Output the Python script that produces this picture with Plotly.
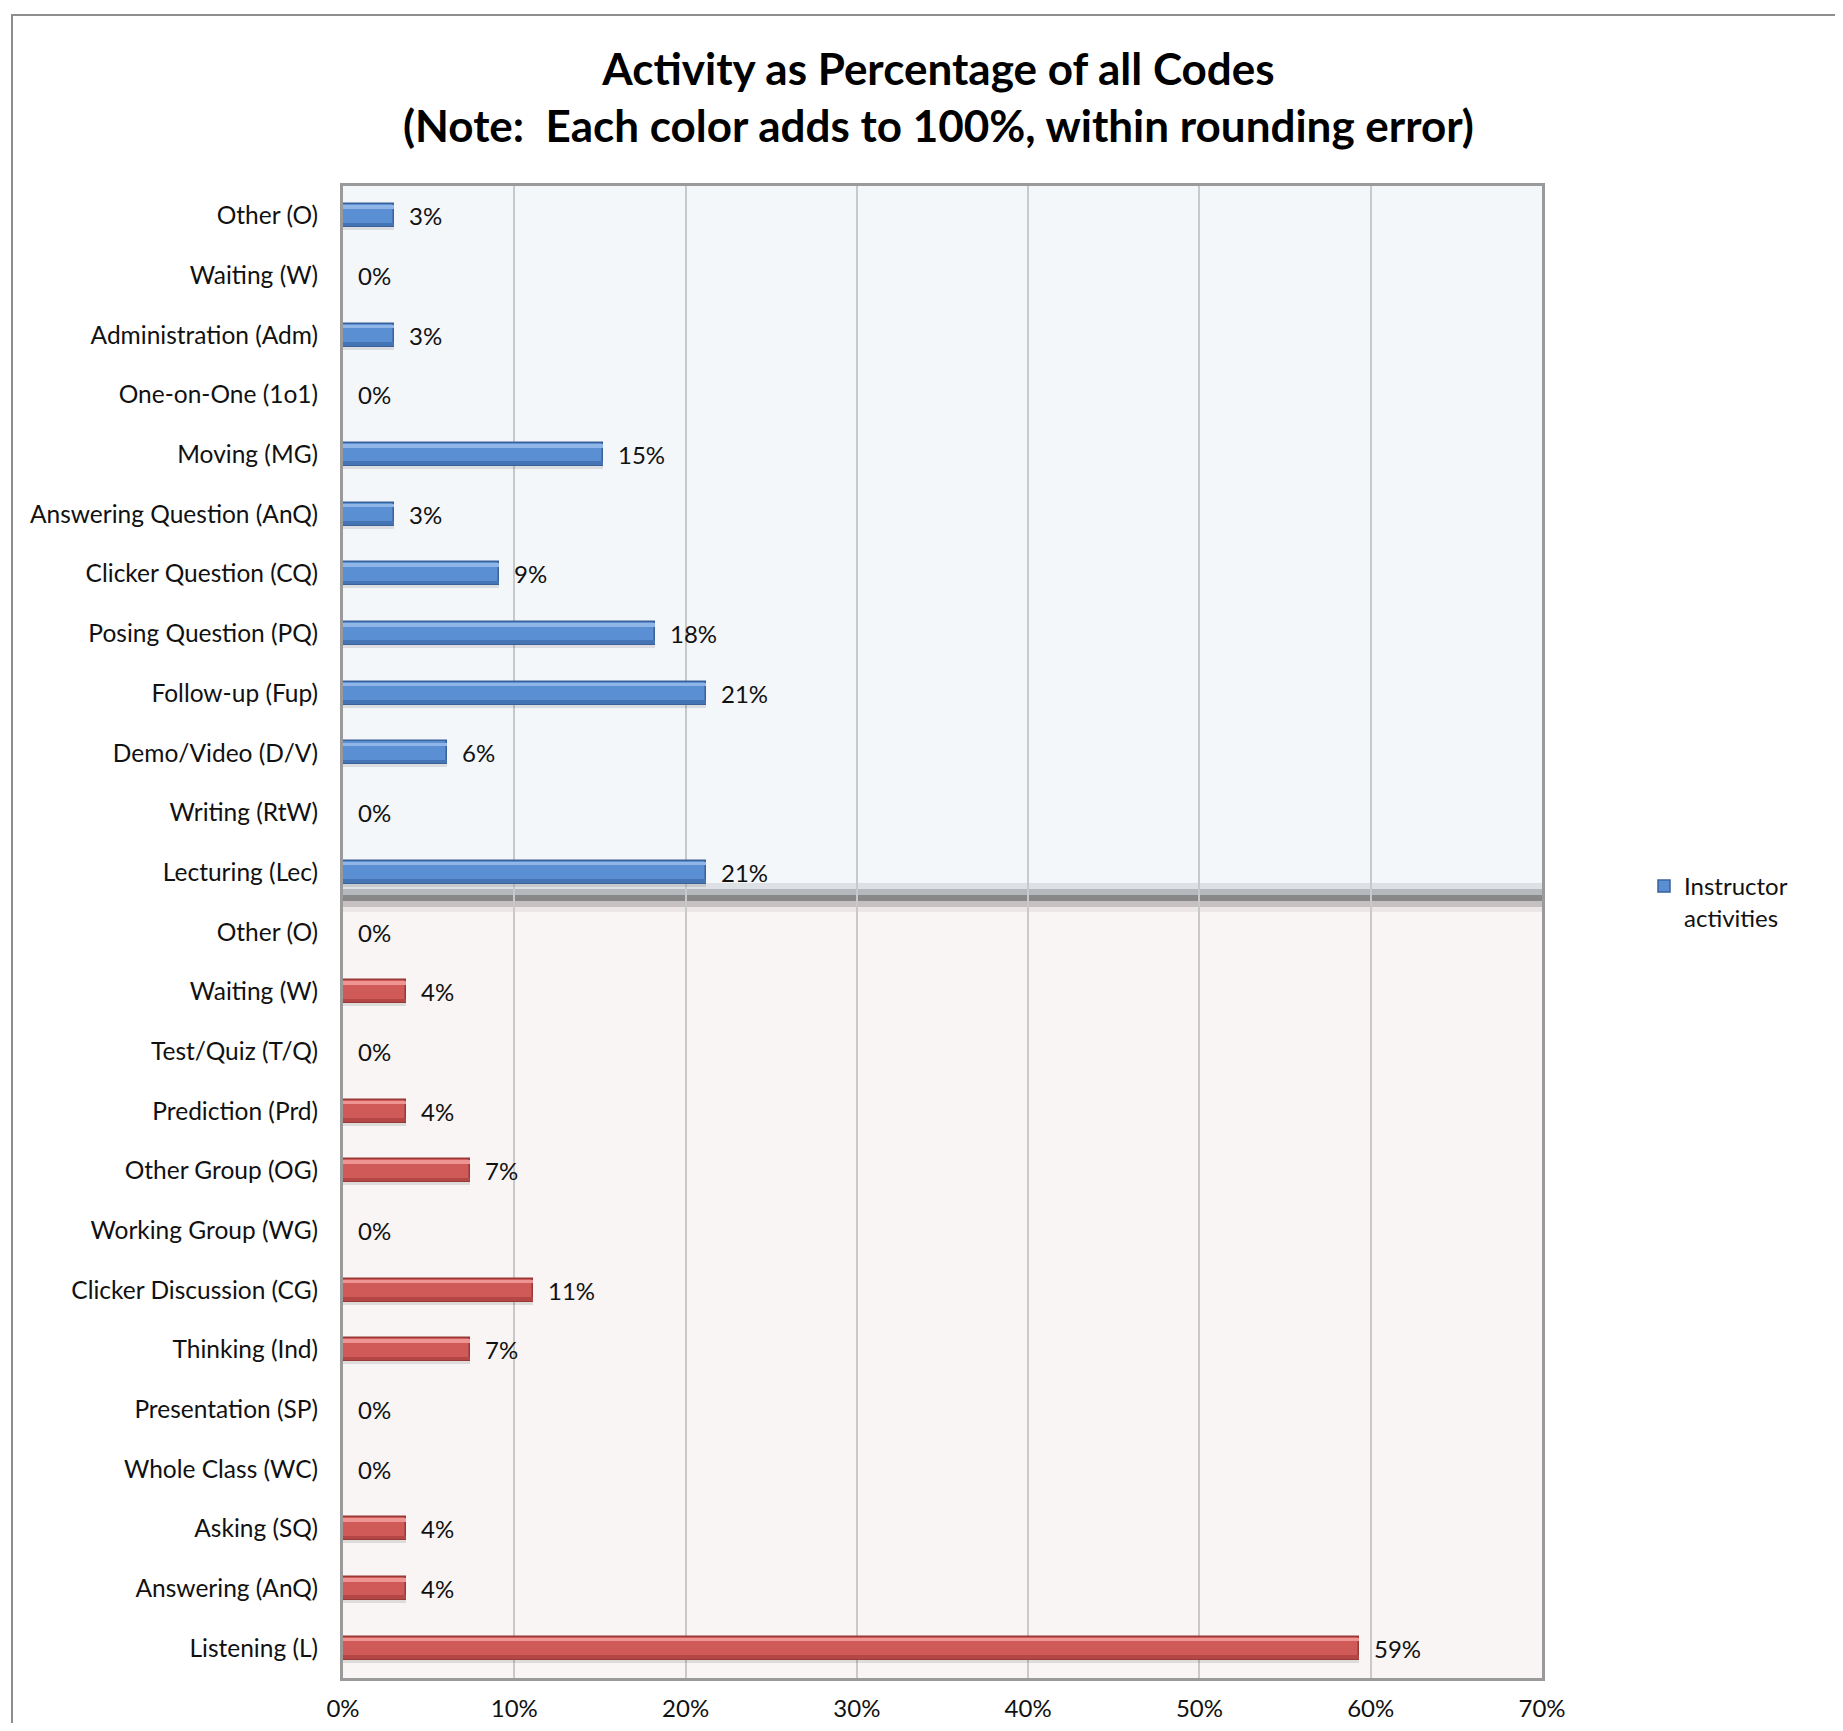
import plotly.graph_objects as go

# ---------------- data ----------------
instructor_labels = [
    "Other (O)", "Waiting (W)", "Administration (Adm)", "One-on-One (1o1)",
    "Moving (MG)", "Answering Question (AnQ)", "Clicker Question (CQ)",
    "Posing Question (PQ)", "Follow-up (Fup)", "Demo/Video (D/V)",
    "Writing (RtW)", "Lecturing (Lec)",
]
instructor_values = [3.0, 0.0, 3.0, 0.0, 15.2, 3.0, 9.1, 18.2, 21.2, 6.1, 0.0, 21.2]

student_labels = [
    "Other (O)", "Waiting (W)", "Test/Quiz (T/Q)", "Prediction (Prd)",
    "Other Group (OG)", "Working Group (WG)", "Clicker Discussion (CG)",
    "Thinking (Ind)", "Presentation (SP)", "Whole Class (WC)",
    "Asking (SQ)", "Answering (AnQ)", "Listening (L)",
]
student_values = [0.0, 3.7, 0.0, 3.7, 7.4, 0.0, 11.1, 7.4, 0.0, 0.0, 3.7, 3.7, 59.3]

x_ticks = [0, 10, 20, 30, 40, 50, 60, 70]
x_tick_text = ["0%", "10%", "20%", "30%", "40%", "50%", "60%", "70%"]

title_text = ("<b>Activity as Percentage of all Codes</b><br>"
              "<b>(Note:  Each color adds to 100%, within rounding error)</b>")
legend_name = "Instructor<br>activities"

# ---------------- layout helpers ----------------
PAGE_OFF = 8                      # default body margin of the page
W, H = 1843 - 2 * PAGE_OFF, 1731 - 2 * PAGE_OFF
# plot-area edges in page pixels -> figure pixels
L, R, T, B = 343 - PAGE_OFF, 1542 - PAGE_OFF, 186 - PAGE_OFF, 1678 - PAGE_OFF
FONT = "Lato, 'Open Sans', sans-serif"


def px(page_x):
    return (page_x - PAGE_OFF - L) / (R - L)


def py(page_y):
    return (B - (page_y - PAGE_OFF)) / (B - T)


n_top = len(instructor_labels)
n_bot = len(student_labels)
pos_top = list(range(n_top))
pos_bot = [n_top + i for i in range(n_bot)]
all_pos = pos_top + pos_bot
all_labels = instructor_labels + student_labels

BAR_W = 0.385

fig = go.Figure()


def add_bevel_bars(pos, vals, edge, light, main, lower, name, showlegend):
    # soft shadow
    fig.add_trace(go.Bar(
        x=vals, y=pos, orientation="h", width=BAR_W, offset=-BAR_W / 2 + 0.05,
        marker=dict(color="rgba(0,0,0,0.10)", line=dict(width=0)),
        showlegend=False, hoverinfo="skip",
    ))
    # outline / body (carries legend entry)
    fig.add_trace(go.Bar(
        x=vals, y=pos, orientation="h", width=BAR_W, offset=-BAR_W / 2,
        marker=dict(color=main, line=dict(color=edge, width=1.5)),
        name=name, showlegend=showlegend, hoverinfo="skip",
    ))
    # top bevel (light)
    fig.add_trace(go.Bar(
        x=vals, y=pos, orientation="h", width=0.06, offset=-0.175,
        marker=dict(color=light, line=dict(width=0)),
        showlegend=False, hoverinfo="skip",
    ))
    # bottom bevel (darker)
    fig.add_trace(go.Bar(
        x=vals, y=pos, orientation="h", width=0.06, offset=0.115,
        marker=dict(color=lower, line=dict(width=0)),
        showlegend=False, hoverinfo="skip",
    ))


add_bevel_bars(pos_top, instructor_values, "#3a6299", "#8fb6e7", "#5b8fd3", "#4474b4",
               legend_name, True)
add_bevel_bars(pos_bot, student_values, "#963937", "#ee9593", "#d05a58", "#b44745",
               "Student activities", False)

# value labels
annotations = []
for p, v in zip(pos_top + pos_bot, instructor_values + student_values):
    annotations.append(dict(
        x=v, y=p, xref="x", yref="y", text=f"{v:.0f}%", showarrow=False,
        xanchor="left", yanchor="middle", xshift=13,
        font=dict(family=FONT, size=24, color="#111111"),
    ))
# title
annotations.append(dict(
    x=px(938), y=py(96), xref="paper", yref="paper",
    text=title_text, showarrow=False, xanchor="center", yanchor="middle",
    font=dict(family=FONT, size=44, color="#000000"),
))

shapes = [
    dict(type="rect", xref="paper", yref="y", x0=0, x1=1, y0=-0.5, y1=n_top - 0.5,
         fillcolor="#f4f7fa", line=dict(width=0), layer="below"),
    dict(type="rect", xref="paper", yref="y", x0=0, x1=1, y0=n_top - 0.5,
         y1=n_top + n_bot - 0.5, fillcolor="#f8f5f4", line=dict(width=0), layer="below"),
]
bands = [(883, 889, "#dde1e5"), (889, 895, "#b5b9bd"), (895, 901, "#888888"),
         (901, 907, "#c6c0c0"), (907, 912, "#ece7e6")]
for y0, y1, c in bands:
    shapes.append(dict(type="rect", xref="paper", yref="paper", x0=0, x1=1,
                       y0=py(y1), y1=py(y0), fillcolor=c, line=dict(width=0),
                       layer="between"))
# outer chart border
shapes.append(dict(type="rect", xref="paper", yref="paper",
                   x0=px(12), x1=px(1843 + 30), y0=py(1731 + 30), y1=py(15),
                   fillcolor="rgba(0,0,0,0)", line=dict(color="#8e8e8e", width=2),
                   layer="above"))

fig.update_layout(
    width=W, height=H,
    margin=dict(l=L, r=W - R, t=T, b=H - B, autoexpand=False),
    paper_bgcolor="white", plot_bgcolor="rgba(0,0,0,0)",
    barmode="overlay", bargap=0,
    font=dict(family=FONT, size=24, color="#111111"),
    xaxis=dict(range=[0, 70], tickvals=x_ticks, ticktext=x_tick_text,
               showgrid=True, gridcolor="#c9c9c9", gridwidth=2,
               showline=True, linecolor="#9a9a9a", linewidth=3, mirror=True,
               ticks="", ticklabelstandoff=7, zeroline=False,
               tickfont=dict(family=FONT, size=24, color="#111111"), fixedrange=True),
    yaxis=dict(range=[n_top + n_bot - 0.5, -0.5], tickvals=all_pos, ticktext=all_labels,
               showgrid=False, showline=True, linecolor="#9a9a9a", linewidth=3,
               mirror=True, ticks="", ticklabelstandoff=17, zeroline=False,
               tickfont=dict(family=FONT, size=24.5, color="#111111"), fixedrange=True),
    legend=dict(x=px(1644), y=py(864), xanchor="left", yanchor="top",
                xref="paper", yref="paper", bgcolor="rgba(0,0,0,0)", valign="top",
                font=dict(family=FONT, size=24, color="#111111"),
                itemwidth=30, tracegroupgap=0),
    annotations=annotations,
    shapes=shapes,
    showlegend=True,
)

fig.write_html("out.html")
